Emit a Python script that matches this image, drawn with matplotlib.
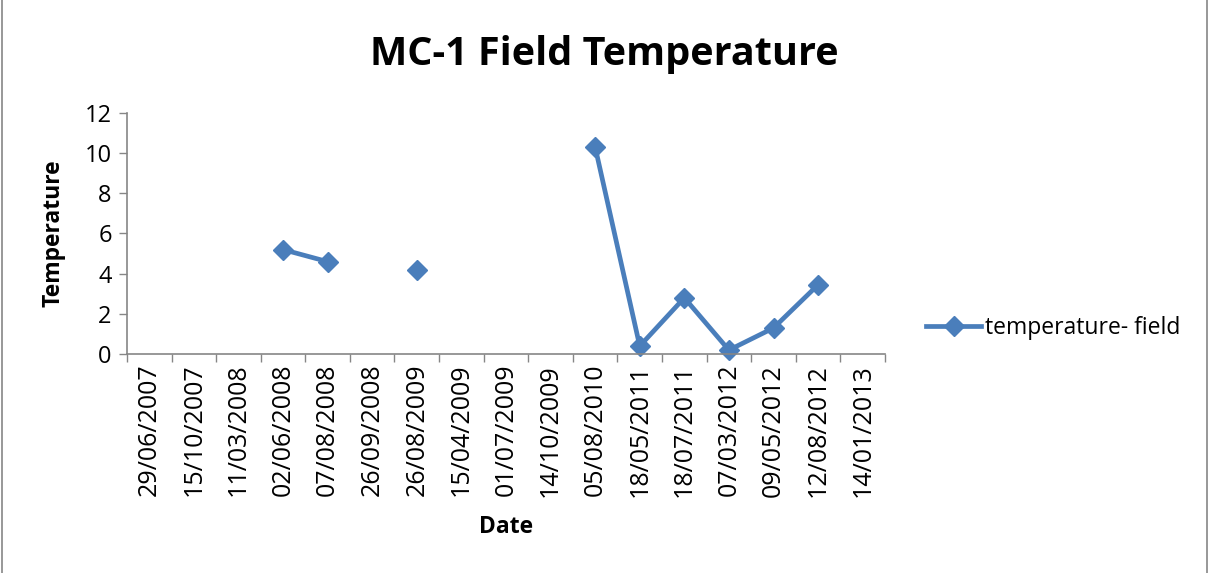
import numpy as np
import matplotlib
matplotlib.use("Agg")
import matplotlib.pyplot as plt
from matplotlib.patches import Rectangle
from matplotlib.ticker import FixedLocator

dates = ["29/06/2007", "15/10/2007", "11/03/2008", "02/06/2008", "07/08/2008",
         "26/09/2008", "26/08/2009", "15/04/2009", "01/07/2009", "14/10/2009",
         "05/08/2010", "18/05/2011", "18/07/2011", "07/03/2012", "09/05/2012",
         "12/08/2012", "14/01/2013"]
temperature = [np.nan, np.nan, np.nan, 5.2, 4.6,
               np.nan, 4.2, np.nan, np.nan, np.nan,
               10.3, 0.4, 2.8, 0.2, 1.3,
               3.45, np.nan]

plt.rcParams['font.family'] = ['Open Sans', 'DejaVu Sans']

fig = plt.figure(figsize=(12.09, 5.73), dpi=100)
ax = fig.add_axes([0.105, 0.382, 0.627, 0.421])

x = np.arange(len(dates))
color = '#4A7EBB'
line, = ax.plot(x, temperature, color=color, lw=3.4, marker='D', markersize=10,
                markeredgecolor=color, label='temperature- field', clip_on=False)

ax.set_xlim(-0.5, len(dates) - 0.5)
ax.set_ylim(0, 12)
ax.set_yticks(np.arange(0, 13, 2))
ax.set_xticks(x)
ax.set_xticklabels(dates, rotation=90, fontsize=18)
ax.xaxis.set_minor_locator(FixedLocator(np.arange(-0.5, len(dates), 1.0)))
ax.tick_params(axis='x', which='major', length=0, pad=7)
ax.tick_params(axis='x', which='minor', length=6, color='#868686', width=1)
ax.tick_params(axis='y', length=6, color='#868686', width=1, labelsize=17, pad=5)

for s in ['top', 'right']:
    ax.spines[s].set_visible(False)
for s in ['left', 'bottom']:
    ax.spines[s].set_color('#868686')
    ax.spines[s].set_linewidth(1.2)

ax.set_xlabel('Date', fontsize=16.5, fontweight='bold', labelpad=13)
ax.set_ylabel('Temperature', fontsize=16.5, fontweight='bold', labelpad=14)

fig.text(0.5, 0.905, 'MC-1 Field Temperature', ha='center', va='center',
         fontsize=28.5, fontweight='bold')

fig.legend(handles=[line], loc='center left', bbox_to_anchor=(0.749, 0.428),
           frameon=False, fontsize=16.5, handlelength=2.4, handletextpad=0.15)

fig.patches.append(Rectangle((0.002, -0.01), 0.996, 1.02, transform=fig.transFigure,
                             fill=False, edgecolor='#868686', lw=1.2))

fig.savefig('out.png', dpi=100)
